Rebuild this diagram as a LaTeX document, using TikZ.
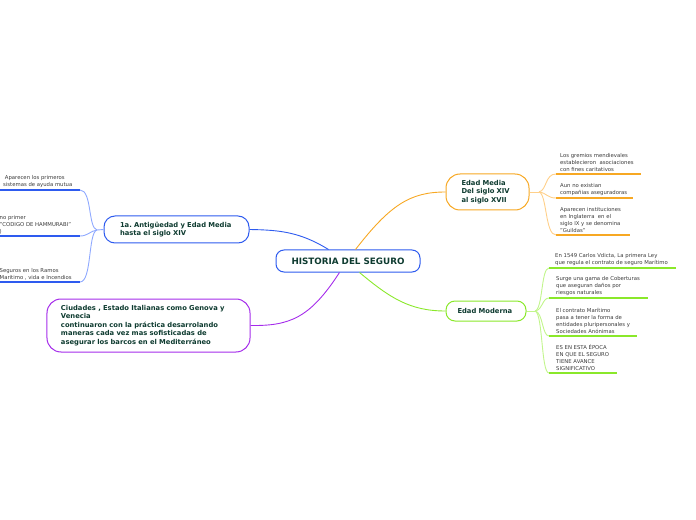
\documentclass[tikz,border=0pt]{standalone}
\usepackage{fontspec}
\setmainfont{DejaVu Sans}
\frenchspacing
\definecolor{cblue}{HTML}{2E5BEF}
\definecolor{lblue}{HTML}{8FA9FF}
\definecolor{corange}{HTML}{F7A823}
\definecolor{lorange}{HTML}{FFD08A}
\definecolor{cpurple}{HTML}{A52CEB}
\definecolor{cgreen}{HTML}{8AE82A}
\definecolor{lgreen}{HTML}{C2F58C}
\definecolor{ntext}{HTML}{0E3B30}
\definecolor{ltext}{HTML}{3A3A3A}
\tikzset{
  topic/.style={draw, rounded corners=11bp, fill=white, line width=1bp, text=ntext,
    font=\bfseries\fontsize{6.8}{8.5}\selectfont, align=left, inner ysep=2bp},
  leaf/.style={font=\fontsize{5.35}{6.9}\selectfont, text=ltext, align=left, anchor=south west, inner sep=0pt},
  leafline/.style={line width=1.6bp},
  conn/.style={line width=0.9bp}
}
\begin{document}
\begin{tikzpicture}[x=1bp,y=-1bp]
\useasboundingbox (0,0) rectangle (696,520);
% central
\node[draw=cblue, rounded corners=8bp, fill=white, line width=1bp, text=ntext,
  font=\bfseries\fontsize{8.8}{10}\selectfont, minimum width=144bp, minimum height=22bp, inner sep=0pt]
  (c) at (348,261) {HISTORIA DEL SEGURO};
% branch nodes
\node[topic, draw=cblue, text width=113bp, inner xsep=16bp, minimum height=27bp] (b) at (176.5,229.5)
  {1a. Antigüedad y Edad Media\\hasta el siglo XIV};
\node[topic, draw=cpurple, text width=175bp, inner xsep=14bp, minimum height=53bp, rounded corners=14bp] (p) at (148.5,325.5)
  {Ciudades , Estado Italianas como Genova y\\Venecia\\continuaron con la práctica desarrolando\\maneras cada vez mas sofisticadas de\\asegurar los barcos en el Mediterráneo};
\node[topic, draw=corange, text width=52bp, inner xsep=15.5bp, minimum height=36bp, rounded corners=14bp] (o) at (487.5,192)
  {Edad Media\\Del siglo XIV\\al siglo XVII};
\node[topic, draw=cgreen, text width=57bp, inner xsep=11.5bp, minimum height=20bp, rounded corners=9bp] (g) at (486,311)
  {Edad Moderna};
% main connectors
\draw[conn, cblue] (c.north west) ++(53,0) coordinate (cb) (cb) .. controls (300,232) and (280,230) .. (b.east);
\draw[conn, corange] (c.north west) ++(80,0) coordinate (co) (co) .. controls (390,205) and (410,192) .. (o.west);
\draw[conn, cpurple] (c.south west) ++(64,0) coordinate (cp) (cp) .. controls (310,318) and (290,326) .. (p.east);
\draw[conn, cgreen] (c.south west) ++(84,0) coordinate (cg) (cg) .. controls (390,298) and (410,311) .. (g.west);
% left leaves (blue)
\coordinate (bj) at (97,230);
\coordinate (l1e) at (80,190); \coordinate (l1s) at (0,190);
\coordinate (l2e) at (80,236); \coordinate (l2s) at (0,236);
\coordinate (l3e) at (80,282); \coordinate (l3s) at (0,282);
\draw[conn, lblue] (b.west) -- (bj);
\draw[conn, lblue] (bj) .. controls (88,228) and (92,190) .. (l1e);
\draw[conn, lblue] (bj) .. controls (90,231) and (88,236) .. (l2e);
\draw[conn, lblue] (bj) .. controls (88,232) and (92,282) .. (l3e);
\draw[leafline, cblue] (l1s) -- (l1e);
\draw[leafline, cblue] (l2s) -- (l2e);
\draw[leafline, cblue] (l3s) -- (l3e);
\node[leaf] (t1) at (3,188) {\ Aparecen los primeros\\sistemas de ayuda mutua};
\node[leaf] (t2) at (-0.5,234) {no primer\\"CODIGO DE HAMMURABI"\\)};
\node[leaf] (t3) at (-0.5,280) {Seguros en los Ramos\\Maritimo , vida e Incendios};
% orange leaves
\coordinate (oj) at (539,192);
\coordinate (o1s) at (556,174); \coordinate (o1e) at (641,174);
\coordinate (o2s) at (556,198); \coordinate (o2e) at (633,198);
\coordinate (o3s) at (556,235); \coordinate (o3e) at (630,235);
\draw[conn, lorange] (o.east) -- (oj);
\draw[conn, lorange] (oj) .. controls (547,190) and (545,174) .. (o1s);
\draw[conn, lorange] (oj) .. controls (547,193) and (547,198) .. (o2s);
\draw[conn, lorange] (oj) .. controls (547,194) and (545,235) .. (o3s);
\draw[leafline, corange] (o1s) -- (o1e);
\draw[leafline, corange] (o2s) -- (o2e);
\draw[leafline, corange] (o3s) -- (o3e);
\node[leaf] (ot1) at (560,171.5) {Los gremios mendievales\\establecieron\ \ asociaciones\\con fines caritativos};
\node[leaf] (ot2) at (560,195.5) {Aun no existian\\compañias aseguradoras};
\node[leaf] (ot3) at (560,232.5) {Aparecen instituciones\\en Inglaterra\ \ en el\\siglo IX y se denomina\\"Guildas"};
% green leaves
\coordinate (gj) at (535,311);
\coordinate (g1s) at (549,268); \coordinate (g1e) at (676,268);
\coordinate (g2s) at (549,298); \coordinate (g2e) at (648,298);
\coordinate (g3s) at (549,336); \coordinate (g3e) at (637,336);
\coordinate (g4s) at (549,373); \coordinate (g4e) at (617,373);
\draw[conn, lgreen] (g.east) -- (gj);
\draw[conn, lgreen] (gj) .. controls (543,309) and (541,268) .. (g1s);
\draw[conn, lgreen] (gj) .. controls (543,310) and (542,298) .. (g2s);
\draw[conn, lgreen] (gj) .. controls (543,312) and (542,336) .. (g3s);
\draw[conn, lgreen] (gj) .. controls (543,313) and (541,373) .. (g4s);
\draw[leafline, cgreen] (g1s) -- (g1e);
\draw[leafline, cgreen] (g2s) -- (g2e);
\draw[leafline, cgreen] (g3s) -- (g3e);
\draw[leafline, cgreen] (g4s) -- (g4e);
\node[leaf] (gt1) at (555,265.5) {En 1549 Carlos Vdicta, La primera Ley\\que regula el contrato de seguro Marítimo};
\node[leaf] (gt2) at (556,295.5) {Surge una gama de Coberturas\\que aseguran daños por\\riesgos naturales};
\node[leaf] (gt3) at (556,333.5) {El contrato Marítimo\\pasa a tener la forma de\\entidades pluripersonales y\\Sociedades Anónimas};
\node[leaf] (gt4) at (556,370.5) {ES EN ESTA ÉPOCA\\EN QUE EL SEGURO\\TIENE AVANCE\\SIGNIFICATIVO};
\end{tikzpicture}
\end{document}
